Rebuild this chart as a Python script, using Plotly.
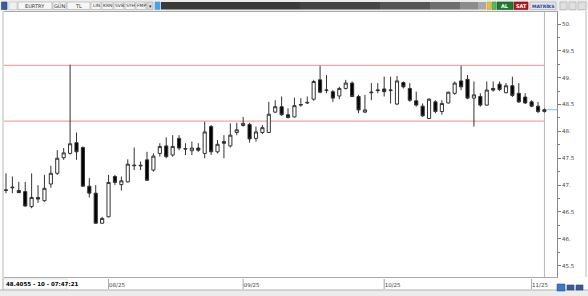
import plotly.graph_objects as go
import pandas as pd

# ---------------- data ----------------
dates = [d.strftime('%Y-%m-%d') for d in pd.bdate_range('2025-07-10', periods=85)]

opens = [46.90, 46.95, 46.90, 46.88, 46.60, 46.77, 46.71, 47.02, 47.22, 47.51,
         47.59, 47.79, 47.70, 46.98, 46.85, 46.29, 46.41, 47.16, 47.01, 47.06,
         47.36, 47.37, 47.47, 47.28, 47.59, 47.73, 47.56, 47.87, 47.67, 47.64,
         47.69, 47.59, 48.09, 47.62, 47.81, 47.73, 47.98, 48.11, 48.13, 47.87,
         47.98, 47.98, 48.36, 48.46, 48.31, 48.27, 48.49, 48.53, 48.60, 48.96,
         48.76, 48.74, 48.66, 48.80, 48.90, 48.65, 48.36, 48.72, 48.76, 48.79,
         48.76, 48.51, 48.91, 48.80, 48.57, 48.47, 48.24, 48.55, 48.37, 48.53,
         48.71, 48.94, 48.97, 48.62, 48.65, 48.49, 48.80, 48.88, 48.72, 48.85,
         48.71, 48.64, 48.55, 48.47, 48.37]
highs = [47.22, 47.16, 47.06, 47.06, 47.22, 47.00, 47.19, 47.36, 47.65, 47.69,
         49.24, 47.98, 47.72, 47.13, 47.00, 46.41, 47.19, 47.19, 47.16, 47.48,
         47.70, 47.44, 47.62, 47.59, 47.78, 47.89, 47.93, 47.93, 47.78, 47.81,
         47.78, 48.18, 48.12, 47.84, 47.93, 48.15, 48.16, 48.27, 48.16, 48.09,
         48.12, 48.55, 48.58, 48.65, 48.43, 48.63, 48.62, 48.65, 48.96, 49.22,
         49.05, 48.77, 48.83, 48.96, 48.93, 48.68, 48.68, 48.90, 48.90, 49.02,
         49.02, 49.03, 48.93, 48.90, 48.74, 48.52, 48.62, 48.58, 48.58, 48.74,
         48.93, 49.22, 49.05, 48.93, 48.71, 48.93, 48.93, 48.93, 48.90, 49.02,
         48.90, 48.71, 48.58, 48.55, 48.43]
lows = [46.85, 46.85, 46.85, 46.60, 46.57, 46.67, 46.69, 46.95, 47.19, 47.47,
        47.57, 47.47, 46.97, 46.77, 46.28, 46.28, 46.40, 47.00, 46.90, 47.05,
        47.28, 47.28, 47.08, 47.25, 47.53, 47.50, 47.53, 47.65, 47.56, 47.56,
        47.62, 47.50, 47.56, 47.59, 47.50, 47.70, 47.93, 48.09, 47.79, 47.81,
        47.95, 47.97, 48.34, 48.29, 48.24, 48.26, 48.46, 48.51, 48.57, 48.71,
        48.71, 48.55, 48.60, 48.78, 48.64, 48.34, 48.34, 48.58, 48.71, 48.65,
        48.52, 48.49, 48.80, 48.55, 48.46, 48.27, 48.23, 48.34, 48.31, 48.52,
        48.68, 48.77, 48.60, 48.09, 48.46, 48.48, 48.74, 48.75, 48.71, 48.64,
        48.53, 48.51, 48.45, 48.34, 48.35]
closes = [46.91, 46.96, 46.86, 46.61, 46.77, 46.74, 46.94, 47.22, 47.50, 47.60,
          47.77, 47.62, 46.98, 46.85, 46.29, 46.38, 47.05, 47.05, 47.08, 47.39,
          47.37, 47.36, 47.09, 47.54, 47.72, 47.53, 47.72, 47.69, 47.68, 47.69,
          47.65, 47.99, 47.62, 47.76, 47.78, 47.93, 48.03, 48.15, 47.86, 47.99,
          48.07, 48.32, 48.46, 48.31, 48.26, 48.48, 48.50, 48.54, 48.93, 48.73,
          48.77, 48.62, 48.80, 48.90, 48.65, 48.40, 48.40, 48.73, 48.77, 48.74,
          48.77, 48.94, 48.83, 48.58, 48.49, 48.29, 48.60, 48.37, 48.52, 48.73,
          48.90, 48.83, 48.62, 48.68, 48.49, 48.77, 48.77, 48.78, 48.85, 48.67,
          48.55, 48.53, 48.47, 48.37, 48.4055]

levels = [49.23, 48.19]           # red horizontal lines
last_price = 48.4055
last_label = "48.4055 - 10 - 07:47:21"

y_ticks = [50.0, 49.5, 49.0, 48.5, 48.0, 47.5, 47.0, 46.5, 46.0, 45.5]
y_ticktext = ["50.", "49.5", "49.", "48.5", "48.", "47.5", "47.", "46.5", "46.", "45.5"]
y_minor = [49.75, 49.25, 48.75, 48.25, 47.75, 47.25, 46.75, 46.25, 45.75, 50.25]
x_ticks = ['2025-08-01', '2025-09-01', '2025-10-01', '2025-11-03']
x_ticktext = ['08/25', '09/25', '10/25', '11/25']

# ---------------- layout geometry helpers (chrome only) ----------------
W, H = 588, 296
ML, MR, MT, MB = 4, 31, 12, 19
PW, PH = W - ML - MR, H - MT - MB


def px(x):
    return (x - ML) / PW


def py(y):
    return (H - MB - y) / PH


FONT = "DejaVu Sans"

fig = go.Figure()
fig.add_trace(go.Candlestick(
    x=dates, open=opens, high=highs, low=lows, close=closes,
    increasing=dict(line=dict(color='#333333', width=1), fillcolor='#ffffff'),
    decreasing=dict(line=dict(color='#333333', width=1), fillcolor='#000000'),
    whiskerwidth=0, showlegend=False, hoverinfo='skip'))

n = len(dates)
shapes = []
# red level lines
for lv in levels:
    shapes.append(dict(type='line', xref='x', yref='y', x0=-0.5, x1=n - 1,
                       y0=lv, y1=lv, line=dict(color='#f2a3a3', width=1.2), layer='below'))
# current bar vertical line
shapes.append(dict(type='line', xref='x', yref='paper', x0=n - 1, x1=n - 1, y0=0, y1=1,
                   line=dict(color='#b8b8b8', width=1), layer='below'))
# cyan last price marker
shapes.append(dict(type='line', xref='x', yref='y', x0=n - 0.6, x1=n + 1, y0=last_price,
                   y1=last_price, line=dict(color='#7fdbe8', width=1.2)))

# toolbar
shapes.append(dict(type='rect', xref='paper', yref='paper', x0=px(0), x1=px(W), y0=py(11),
                   y1=py(0), fillcolor='#ececec', line=dict(width=0), layer='below'))
annotations = []


def box(x0, x1, fill, text=None, tcolor='#333', border='#a8a8a8', y0=2, y1=9.5, bold=False, size=5):
    shapes.append(dict(type='rect', xref='paper', yref='paper', x0=px(x0), x1=px(x1),
                       y0=py(y1), y1=py(y0), fillcolor=fill, line=dict(color=border, width=0.6)))
    if text:
        annotations.append(dict(xref='paper', yref='paper', x=px((x0 + x1) / 2), y=py((y0 + y1) / 2),
                                text=('<b>%s</b>' % text) if bold else text, showarrow=False,
                                font=dict(family=FONT, size=size, color=tcolor),
                                xanchor='center', yanchor='middle'))


box(1.5, 7, '#3b5a9a', border='#2a3f70')
box(9, 17, '#f0f0f0', border='#c0c0c0')
box(18, 52, '#f6f6f6', text='EURTRY')
box(53, 66, '#f6f6f6', text='GÜN')
box(67, 90, '#f6f6f6', text='TL')
box(91, 101, '#f6f6f6', text='LIN', size=4.5)
box(102, 113, '#f6f6f6', text='KRN', size=4.5)
box(114, 124, '#f6f6f6', text='SVB', size=4.5)
box(125, 135, '#f6f6f6', text='SYH', size=4.5)
box(136, 146, '#f6f6f6', text='FMP', size=4.5)
box(147, 153, '#dcdcdc', text='▾', size=5)
box(155, 160, '#4aa3e0', border='#4aa3e0')
# dark gradient bar
grad = [(161, 300, '#3a3a3a'), (300, 380, '#444444'), (380, 430, '#555555'),
        (430, 460, '#6e6e6e'), (460, 478, '#8c8c8c'), (478, 486, '#a8a8a8')]
for a, b, c in grad:
    shapes.append(dict(type='rect', xref='paper', yref='paper', x0=px(a), x1=px(b), y0=py(9.5),
                       y1=py(2), fillcolor=c, line=dict(width=0)))
box(487, 491, '#e8c040', border='#c8a030')
box(492, 496, '#5cb85c', border='#3c983c')
box(497, 513, '#1d7a2e', text='AL', tcolor='#ffffff', border='#145a20', bold=True)
box(514, 528, '#b3191b', text='SAT', tcolor='#ffffff', border='#801010', bold=True)
box(530, 556, '#e4e4ee', text='MATRİKS', tcolor='#28409a', size=4.5, bold=True)
box(560, 567, '#e0e0e0')
box(569, 576, '#e0e0e0')
box(578, 586, '#e0e0e0')

# bottom strip
shapes.append(dict(type='rect', xref='paper', yref='paper', x0=px(0), x1=px(W), y0=py(296),
                   y1=py(290), fillcolor='#ececec', line=dict(width=0), layer='below'))
shapes.append(dict(type='line', xref='paper', yref='paper', x0=px(0), x1=px(W), y0=py(290),
                   y1=py(290), line=dict(color='#b0b0b0', width=1)))
shapes.append(dict(type='rect', xref='paper', yref='paper', x0=px(3), x1=px(67), y0=py(289),
                   y1=py(279), fillcolor='#ffffff', line=dict(color='#d0d0d0', width=0.6)))
annotations.append(dict(xref='paper', yref='paper', x=px(4), y=py(284), text='<b>%s</b>' % last_label,
                        showarrow=False, xanchor='left', yanchor='middle',
                        font=dict(family=FONT, size=5.5, color='#000')))
# right-bottom icons
box(557, 565, '#3a78c8', border='#2a5898', y0=284, y1=291)
box(567, 574, '#3a5a9a', border='#2a3f70', y0=285, y1=290)
box(576, 583, '#3a5a9a', border='#2a3f70', y0=285, y1=290)
# vertical separators / frame
shapes.append(dict(type='line', xref='paper', yref='paper', x0=px(586), x1=px(586), y0=py(277),
                   y1=py(11), line=dict(color='#b8b8b8', width=1)))
shapes.append(dict(type='line', xref='paper', yref='paper', x0=px(3), x1=px(3), y0=py(290),
                   y1=py(11), line=dict(color='#b8b8b8', width=1)))
# x tick marks
for tv in x_ticks:
    shapes.append(dict(type='line', xref='x', yref='paper', x0=tv, x1=tv, y0=py(279), y1=py(289),
                       line=dict(color='#909090', width=0.8)))

fig.update_layout(
    width=W, height=H,
    margin=dict(l=ML, r=MR, t=MT, b=MB, pad=0),
    paper_bgcolor='#ffffff', plot_bgcolor='#ffffff',
    shapes=shapes, annotations=annotations,
    font=dict(family=FONT, size=5.5, color='#333'),
    xaxis=dict(type='category', range=[-0.31, 85.96], rangeslider=dict(visible=False),
               tickmode='array', tickvals=x_ticks, ticktext=x_ticktext,
               ticks='', ticklabelposition='outside right', ticklabelstandoff=2,
               showgrid=False, zeroline=False, showline=True, linecolor='#a8a8a8', linewidth=1,
               mirror=True, tickfont=dict(size=5.5, color='#444')),
    yaxis=dict(side='right', range=[45.289, 50.2235], tickmode='array', tickvals=y_ticks,
               ticktext=y_ticktext, ticks='outside', ticklen=3, tickcolor='#777',
               minor=dict(tickvals=y_minor, ticks='outside', ticklen=2, tickcolor='#777'),
               showgrid=False, zeroline=False, showline=True, linecolor='#8a8a8a', linewidth=1,
               tickfont=dict(size=5.5, color='#444')),
)

fig.write_html("out.html")
